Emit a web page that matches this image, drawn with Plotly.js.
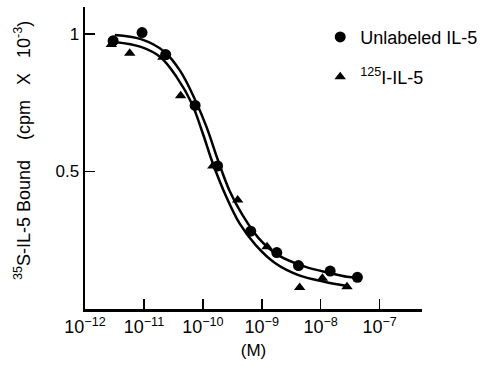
<!DOCTYPE html>
<html>
<head>
<meta charset="utf-8">
<script src="https://cdn.plot.ly/plotly-3.0.1.min.js"></script>
<style>html,body{margin:0;padding:0;background:#fff;}#chart{width:490px;height:375px;}</style>
</head>
<body>
<div id="chart"></div>
<script>
// Unlabeled IL-5 (circles)
const unlabeledX = [3.0e-12, 9.3e-12, 2.34e-11, 7.4e-11, 1.78e-10, 6.5e-10, 1.8e-9, 4.2e-9, 1.45e-8, 4.2e-8];
const unlabeledY = [0.975, 1.005, 0.925, 0.74, 0.52, 0.283, 0.205, 0.158, 0.138, 0.115];
// 125I-IL-5 (triangles)
const iodinatedX = [2.8e-12, 5.75e-12, 2.1e-11, 4.2e-11, 1.48e-10, 3.9e-10, 1.23e-9, 4.4e-9, 1.07e-8, 2.8e-8];
const iodinatedY = [0.962, 0.93, 0.915, 0.775, 0.52, 0.396, 0.226, 0.078, 0.112, 0.081];
// fitted curves
const fitUnlabeledX = [3.2e-12, 8.9e-12, 2.2e-11, 4.2e-11, 7.4e-11, 1.15e-10, 1.8e-10, 2.8e-10, 4.7e-10, 8.9e-10, 1.9e-9, 5.4e-9, 1.48e-8, 2.8e-8, 4.2e-8];
const fitUnlabeledY = [0.996, 0.981, 0.936, 0.863, 0.760, 0.663, 0.542, 0.433, 0.342, 0.257, 0.196, 0.154, 0.130, 0.117, 0.114];
const fitIodinatedX = [3.2e-12, 8.9e-12, 1.9e-11, 3.6e-11, 6.5e-11, 1.0e-10, 1.48e-10, 2.5e-10, 4.2e-10, 7.9e-10, 1.7e-9, 4.2e-9, 1.15e-8, 2.8e-8];
const fitIodinatedY = [0.971, 0.953, 0.916, 0.843, 0.747, 0.638, 0.529, 0.408, 0.311, 0.232, 0.166, 0.123, 0.099, 0.084];
const xTickVals = [1e-12, 1e-11, 1e-10, 1e-9, 1e-8, 1e-7];
const xTickText = ['10<sup>\u221212</sup>', '10<sup>\u221211</sup>', '10<sup>\u221210</sup>', '10<sup>\u22129</sup>', '10<sup>\u22128</sup>', '10<sup>\u22127</sup>'];
const yTickVals = [0.5, 1];
const yTickText = ['0.5', '1'];

const FONT = 'Liberation Sans, Arial, Helvetica, sans-serif';
const traces = [
  {x: fitUnlabeledX, y: fitUnlabeledY, mode: 'lines', line: {color: '#000', width: 2.5, shape: 'spline'}, showlegend: false, hoverinfo: 'skip'},
  {x: fitIodinatedX, y: fitIodinatedY, mode: 'lines', line: {color: '#000', width: 2.5, shape: 'spline'}, showlegend: false, hoverinfo: 'skip'},
  {x: unlabeledX, y: unlabeledY, mode: 'markers', name: 'Unlabeled IL-5', marker: {symbol: 'circle', size: 11, color: '#000'}, legend: 'legend'},
  {x: iodinatedX, y: iodinatedY, mode: 'markers', name: '<sup>125</sup>I-IL-5', marker: {symbol: 'triangle-up', size: 10, color: '#000'}, legend: 'legend2'}
];

const layout = {
  width: 490, height: 375,
  margin: {l: 85, r: 64, t: 7, b: 66},
  paper_bgcolor: '#fff', plot_bgcolor: '#fff',
  font: {family: FONT, size: 17, color: '#000'},
  xaxis: {
    type: 'log', range: [-12, -6.28],
    tickvals: xTickVals, ticktext: xTickText,
    ticks: 'inside', ticklen: 10, tickwidth: 1.5, tickcolor: '#000',
    showline: true, linecolor: '#000', linewidth: 2.5,
    showgrid: false, zeroline: false,
    tickfont: {family: FONT, size: 18, color: '#000'},
    title: {text: '(M)', font: {family: FONT, size: 17, color: '#000'}, standoff: 8}
  },
  yaxis: {
    range: [0, 1.098],
    tickvals: yTickVals, ticktext: yTickText,
    ticks: 'inside', ticklen: 10, tickwidth: 1.5, tickcolor: '#000',
    showline: true, linecolor: '#000', linewidth: 2.5,
    showgrid: false, zeroline: false,
    tickfont: {family: FONT, size: 17, color: '#000'}
  },
  annotations: [{
    text: '<sup>35</sup>S-IL-5 Bound&nbsp;&nbsp;&nbsp;&nbsp;(cpm&nbsp;&nbsp;&nbsp;X&nbsp;&nbsp;&nbsp;10<sup>-3</sup>)',
    xref: 'paper', yref: 'paper', x: -0.185, y: 0.525,
    xanchor: 'center', yanchor: 'middle', textangle: -90, showarrow: false,
    font: {family: FONT, size: 18, color: '#000'}
  }],
  legend: {x: 0.698, y: 0.90, xanchor: 'left', yanchor: 'middle', bgcolor: 'rgba(0,0,0,0)', borderwidth: 0, font: {family: FONT, size: 18, color: '#000'}},
  legend2: {x: 0.698, y: 0.768, xanchor: 'left', yanchor: 'middle', bgcolor: 'rgba(0,0,0,0)', borderwidth: 0, font: {family: FONT, size: 18, color: '#000'}},
  showlegend: true
};

Plotly.newPlot('chart', traces, layout, {staticPlot: true, displayModeBar: false});
</script>
</body>
</html>
